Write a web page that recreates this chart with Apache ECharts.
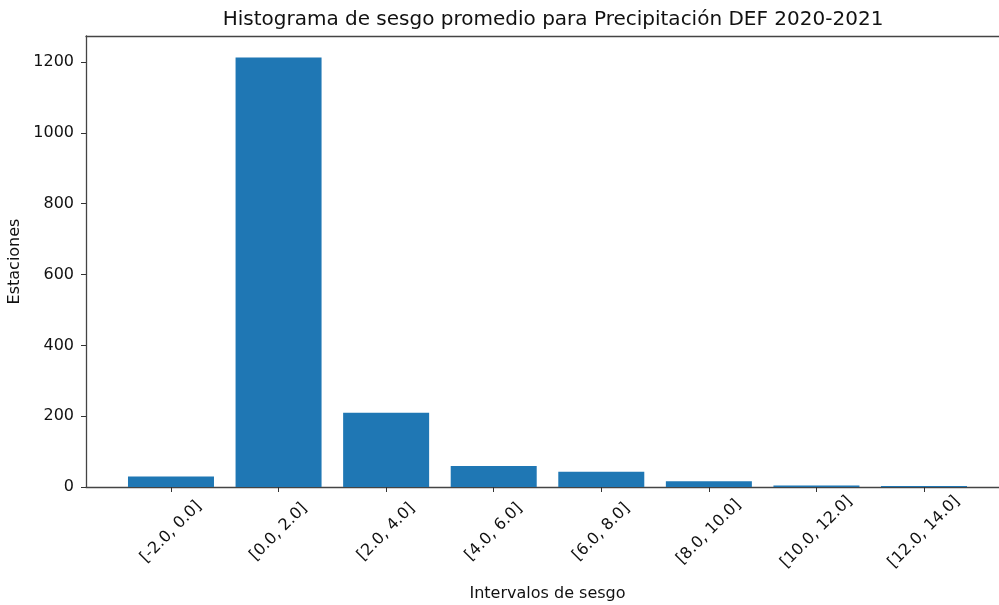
<!DOCTYPE html>
<html>
<head>
<meta charset="utf-8">
<script src="https://cdn.jsdelivr.net/npm/echarts@6/dist/echarts.min.js"></script>
<style>
  html, body { margin: 0; padding: 0; background: #ffffff; }
  #chart { width: 999px; height: 605px; }
</style>
</head>
<body>
<div id="chart"></div>
<script>
const intervalos = ["[-2.0, 0.0]", "[0.0, 2.0]", "[2.0, 4.0]", "[4.0, 6.0]",
  "[6.0, 8.0]", "[8.0, 10.0]", "[10.0, 12.0]", "[12.0, 14.0]"];
const estaciones = [30, 1213, 210, 59, 43, 16, 4, 3];
const yTicks = [0, 200, 400, 600, 800, 1000, 1200];

const posiciones = intervalos.map((_, i) => i);
const font = "DejaVu Sans";
const spine = { color: "#444", width: 1.3 };

const myChart = echarts.init(document.getElementById("chart"));
const option = {
  animation: false,
  title: {
    text: "Histograma de sesgo promedio para Precipitación DEF 2020-2021",
    left: 548,
    top: 5,
    textAlign: "center",
    textStyle: { fontFamily: font, fontSize: 20, fontWeight: "normal", color: "#111" }
  },
  grid: {
    left: 86,
    width: 923,
    top: 36,
    bottom: 118,
    outerBoundsMode: "none"
  },
  xAxis: [
    {
      type: "value",
      min: -0.79,
      max: 7.79,
      name: "Intervalos de sesgo",
      nameLocation: "middle",
      nameGap: 99,
      nameTextStyle: { fontFamily: font, fontSize: 16, color: "#111" },
      axisLine: { onZero: false, lineStyle: spine },
      axisTick: { show: true, length: 5, customValues: posiciones, lineStyle: { color: "#333" } },
      splitLine: { show: false },
      axisLabel: {
        customValues: posiciones,
        rotate: 45,
        align: "center",
        verticalAlign: "middle",
        margin: 45,
        fontFamily: font,
        fontSize: 16,
        color: "#111",
        formatter: v => intervalos[Math.round(v)]
      }
    },
    {
      // top spine
      type: "value",
      position: "top",
      min: -0.79,
      max: 7.79,
      axisLine: { show: true, onZero: false, lineStyle: spine },
      axisTick: { show: false },
      axisLabel: { show: false },
      splitLine: { show: false }
    }
  ],
  yAxis: {
    type: "value",
    min: 0,
    max: 1273.65,
    name: "Estaciones",
    nameLocation: "middle",
    nameGap: 60,
    nameTextStyle: { fontFamily: font, fontSize: 16, color: "#111" },
    axisLine: { show: true, onZero: false, lineStyle: spine },
    axisTick: { show: true, length: 5, customValues: yTicks, lineStyle: { color: "#333" } },
    splitLine: { show: false },
    axisLabel: {
      customValues: yTicks,
      margin: 12,
      fontFamily: font,
      fontSize: 16,
      color: "#111",
      formatter: v => String(v)
    }
  },
  series: [
    {
      type: "bar",
      barWidth: 86,
      itemStyle: { color: "#1f77b4" },
      data: posiciones.map((x, i) => [x, estaciones[i]])
    }
  ]
};
myChart.setOption(option);
</script>
</body>
</html>
